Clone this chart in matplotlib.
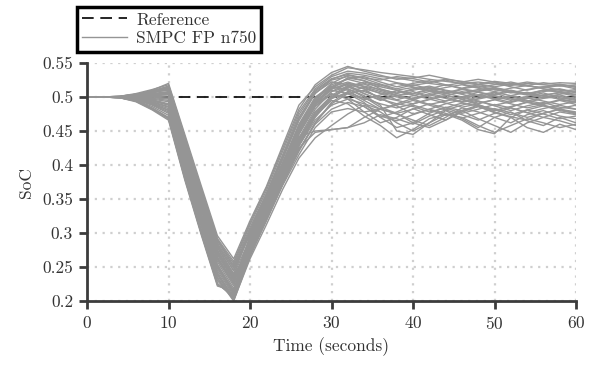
import numpy as np
import matplotlib
matplotlib.use("Agg")
from matplotlib import pyplot as plt

plt.rcParams['font.family'] = ['cmr10', 'DejaVu Serif']
plt.rcParams['axes.formatter.use_mathtext'] = True
plt.rcParams['mathtext.fontset'] = 'cm'

# time axis (seconds), one sample every 2 s
time = np.arange(0, 61, 2)
reference = [0.5] * len(time)

# SoC trajectories
soc_runs = [
    [0.5, 0.5, 0.500, 0.503, 0.510, 0.520, 0.445, 0.370, 0.296, 0.262, 0.318, 0.368, 0.428, 0.488, 0.515, 0.532, 0.543, 0.540, 0.536, 0.533, 0.530, 0.526, 0.523, 0.520, 0.522, 0.519, 0.517, 0.520, 0.518, 0.516, 0.518],
    [0.5, 0.5, 0.499, 0.495, 0.484, 0.470, 0.382, 0.302, 0.226, 0.205, 0.272, 0.324, 0.375, 0.422, 0.462, 0.490, 0.505, 0.510, 0.498, 0.487, 0.475, 0.482, 0.490, 0.496, 0.489, 0.480, 0.485, 0.493, 0.488, 0.482, 0.478],
    [0.5, 0.5, 0.500, 0.500, 0.498, 0.495, 0.415, 0.338, 0.262, 0.225, 0.295, 0.345, 0.400, 0.455, 0.497, 0.515, 0.522, 0.515, 0.508, 0.502, 0.505, 0.510, 0.506, 0.500, 0.503, 0.507, 0.502, 0.498, 0.503, 0.506, 0.501],
    [0.5, 0.5, 0.501, 0.504, 0.508, 0.512, 0.432, 0.355, 0.280, 0.240, 0.300, 0.352, 0.408, 0.465, 0.505, 0.525, 0.530, 0.524, 0.512, 0.505, 0.512, 0.516, 0.510, 0.506, 0.511, 0.514, 0.509, 0.504, 0.510, 0.512, 0.507],
    [0.5, 0.5, 0.499, 0.494, 0.482, 0.468, 0.380, 0.300, 0.224, 0.210, 0.290, 0.340, 0.395, 0.452, 0.490, 0.505, 0.497, 0.478, 0.462, 0.470, 0.483, 0.474, 0.466, 0.478, 0.486, 0.477, 0.470, 0.481, 0.475, 0.468, 0.472],
    [0.5, 0.5, 0.500, 0.502, 0.505, 0.508, 0.428, 0.350, 0.275, 0.235, 0.285, 0.335, 0.388, 0.440, 0.482, 0.508, 0.520, 0.512, 0.497, 0.490, 0.498, 0.505, 0.500, 0.493, 0.500, 0.506, 0.498, 0.494, 0.500, 0.503, 0.497],
    [0.5, 0.5, 0.500, 0.498, 0.492, 0.485, 0.402, 0.322, 0.245, 0.208, 0.278, 0.330, 0.383, 0.438, 0.478, 0.500, 0.512, 0.502, 0.488, 0.450, 0.445, 0.462, 0.480, 0.468, 0.455, 0.470, 0.478, 0.465, 0.458, 0.470, 0.462],
    [0.5, 0.5, 0.500, 0.503, 0.509, 0.516, 0.440, 0.364, 0.290, 0.255, 0.312, 0.362, 0.420, 0.478, 0.512, 0.530, 0.538, 0.535, 0.530, 0.528, 0.524, 0.520, 0.517, 0.521, 0.518, 0.515, 0.519, 0.516, 0.514, 0.518, 0.515],
    [0.5, 0.5, 0.500, 0.497, 0.490, 0.480, 0.395, 0.315, 0.238, 0.202, 0.268, 0.318, 0.370, 0.415, 0.455, 0.478, 0.483, 0.478, 0.482, 0.490, 0.486, 0.478, 0.484, 0.491, 0.487, 0.480, 0.486, 0.492, 0.487, 0.483, 0.488],
    [0.5, 0.5, 0.501, 0.504, 0.507, 0.510, 0.430, 0.352, 0.278, 0.238, 0.292, 0.345, 0.398, 0.452, 0.495, 0.518, 0.526, 0.520, 0.515, 0.510, 0.514, 0.509, 0.505, 0.511, 0.507, 0.503, 0.508, 0.505, 0.502, 0.507, 0.504],
    [0.5, 0.5, 0.500, 0.499, 0.496, 0.490, 0.410, 0.330, 0.254, 0.215, 0.282, 0.333, 0.386, 0.442, 0.450, 0.452, 0.455, 0.462, 0.474, 0.468, 0.460, 0.472, 0.481, 0.474, 0.466, 0.476, 0.484, 0.477, 0.470, 0.478, 0.474],
    [0.5, 0.5, 0.500, 0.501, 0.502, 0.503, 0.422, 0.344, 0.268, 0.230, 0.288, 0.340, 0.392, 0.446, 0.488, 0.512, 0.528, 0.530, 0.522, 0.515, 0.520, 0.524, 0.518, 0.513, 0.518, 0.521, 0.515, 0.510, 0.515, 0.519, 0.514],
    [0.5, 0.5, 0.499, 0.496, 0.488, 0.476, 0.390, 0.310, 0.233, 0.200, 0.265, 0.318, 0.372, 0.425, 0.448, 0.452, 0.455, 0.470, 0.482, 0.475, 0.466, 0.458, 0.470, 0.484, 0.478, 0.470, 0.462, 0.474, 0.480, 0.472, 0.468],
    [0.5, 0.5, 0.500, 0.502, 0.506, 0.511, 0.436, 0.360, 0.285, 0.248, 0.305, 0.356, 0.412, 0.470, 0.506, 0.522, 0.518, 0.505, 0.496, 0.502, 0.508, 0.500, 0.494, 0.500, 0.507, 0.501, 0.495, 0.501, 0.506, 0.499, 0.495],
    [0.5, 0.5, 0.500, 0.498, 0.494, 0.488, 0.405, 0.326, 0.250, 0.212, 0.280, 0.330, 0.382, 0.435, 0.472, 0.495, 0.490, 0.472, 0.458, 0.440, 0.452, 0.468, 0.475, 0.466, 0.452, 0.446, 0.470, 0.455, 0.448, 0.460, 0.452],
    [0.5, 0.5, 0.501, 0.505, 0.511, 0.518, 0.442, 0.366, 0.292, 0.258, 0.315, 0.366, 0.424, 0.482, 0.518, 0.536, 0.545, 0.538, 0.532, 0.526, 0.528, 0.532, 0.527, 0.522, 0.526, 0.522, 0.518, 0.522, 0.519, 0.521, 0.520],
    [0.5, 0.5, 0.500, 0.500, 0.497, 0.493, 0.412, 0.334, 0.258, 0.218, 0.284, 0.336, 0.390, 0.445, 0.486, 0.508, 0.515, 0.508, 0.500, 0.495, 0.490, 0.496, 0.502, 0.497, 0.491, 0.496, 0.501, 0.495, 0.490, 0.496, 0.492],
    [0.5, 0.5, 0.500, 0.501, 0.503, 0.505, 0.425, 0.347, 0.272, 0.232, 0.272, 0.322, 0.372, 0.420, 0.462, 0.492, 0.508, 0.514, 0.505, 0.496, 0.502, 0.508, 0.503, 0.497, 0.503, 0.498, 0.492, 0.498, 0.503, 0.497, 0.493],
    [0.5, 0.5, 0.499, 0.493, 0.481, 0.466, 0.378, 0.298, 0.222, 0.215, 0.296, 0.346, 0.402, 0.460, 0.500, 0.516, 0.510, 0.495, 0.482, 0.488, 0.495, 0.488, 0.481, 0.488, 0.494, 0.487, 0.480, 0.487, 0.492, 0.485, 0.482],
    [0.5, 0.5, 0.500, 0.502, 0.504, 0.507, 0.427, 0.349, 0.274, 0.236, 0.275, 0.326, 0.378, 0.428, 0.470, 0.498, 0.515, 0.522, 0.518, 0.510, 0.505, 0.512, 0.518, 0.512, 0.508, 0.513, 0.509, 0.505, 0.510, 0.507, 0.503],
    [0.5, 0.5, 0.500, 0.499, 0.495, 0.489, 0.408, 0.328, 0.252, 0.214, 0.278, 0.328, 0.380, 0.432, 0.474, 0.498, 0.505, 0.492, 0.470, 0.455, 0.462, 0.476, 0.485, 0.480, 0.468, 0.458, 0.448, 0.462, 0.470, 0.465, 0.458],
    [0.5, 0.5, 0.500, 0.503, 0.508, 0.514, 0.438, 0.362, 0.288, 0.252, 0.308, 0.358, 0.415, 0.474, 0.510, 0.527, 0.533, 0.528, 0.525, 0.530, 0.527, 0.522, 0.526, 0.523, 0.519, 0.523, 0.520, 0.517, 0.521, 0.518, 0.516],
    [0.5, 0.5, 0.500, 0.497, 0.491, 0.483, 0.398, 0.318, 0.242, 0.205, 0.270, 0.322, 0.376, 0.428, 0.466, 0.488, 0.497, 0.490, 0.482, 0.476, 0.462, 0.455, 0.466, 0.480, 0.486, 0.478, 0.471, 0.466, 0.476, 0.482, 0.476],
    [0.5, 0.5, 0.500, 0.501, 0.501, 0.500, 0.418, 0.340, 0.265, 0.228, 0.290, 0.342, 0.396, 0.450, 0.492, 0.512, 0.518, 0.512, 0.506, 0.500, 0.498, 0.503, 0.498, 0.492, 0.497, 0.502, 0.497, 0.492, 0.498, 0.501, 0.496],
    [0.5, 0.5, 0.500, 0.502, 0.507, 0.513, 0.434, 0.357, 0.282, 0.244, 0.302, 0.354, 0.410, 0.468, 0.508, 0.526, 0.535, 0.532, 0.527, 0.521, 0.517, 0.521, 0.525, 0.519, 0.514, 0.518, 0.522, 0.517, 0.513, 0.517, 0.512],
    [0.5, 0.5, 0.499, 0.495, 0.486, 0.473, 0.386, 0.306, 0.230, 0.203, 0.270, 0.322, 0.374, 0.430, 0.472, 0.500, 0.515, 0.505, 0.495, 0.502, 0.497, 0.489, 0.494, 0.500, 0.494, 0.488, 0.493, 0.499, 0.494, 0.489, 0.493],
    [0.5, 0.5, 0.500, 0.501, 0.500, 0.498, 0.417, 0.339, 0.264, 0.226, 0.292, 0.344, 0.398, 0.452, 0.493, 0.514, 0.512, 0.500, 0.485, 0.476, 0.482, 0.490, 0.484, 0.476, 0.482, 0.489, 0.484, 0.477, 0.483, 0.488, 0.482],
    [0.5, 0.5, 0.500, 0.503, 0.509, 0.515, 0.439, 0.363, 0.289, 0.250, 0.300, 0.350, 0.404, 0.458, 0.498, 0.520, 0.532, 0.527, 0.519, 0.512, 0.518, 0.512, 0.506, 0.512, 0.516, 0.511, 0.506, 0.511, 0.515, 0.510, 0.508],
    [0.5, 0.5, 0.499, 0.496, 0.489, 0.478, 0.392, 0.312, 0.235, 0.201, 0.262, 0.312, 0.364, 0.410, 0.440, 0.458, 0.475, 0.488, 0.478, 0.462, 0.450, 0.462, 0.474, 0.470, 0.458, 0.448, 0.458, 0.468, 0.462, 0.455, 0.460],
    [0.5, 0.5, 0.500, 0.500, 0.499, 0.497, 0.416, 0.337, 0.261, 0.222, 0.286, 0.338, 0.393, 0.448, 0.490, 0.512, 0.520, 0.516, 0.511, 0.506, 0.510, 0.514, 0.509, 0.505, 0.509, 0.512, 0.507, 0.503, 0.508, 0.511, 0.506],
    [0.5, 0.5, 0.501, 0.504, 0.508, 0.513, 0.435, 0.358, 0.283, 0.245, 0.298, 0.348, 0.402, 0.456, 0.494, 0.510, 0.505, 0.496, 0.503, 0.509, 0.503, 0.497, 0.502, 0.508, 0.502, 0.497, 0.502, 0.507, 0.501, 0.497, 0.500],
    [0.5, 0.5, 0.499, 0.494, 0.483, 0.469, 0.381, 0.301, 0.225, 0.207, 0.285, 0.336, 0.390, 0.446, 0.486, 0.504, 0.500, 0.486, 0.470, 0.478, 0.488, 0.481, 0.473, 0.480, 0.488, 0.482, 0.474, 0.481, 0.487, 0.480, 0.476],
    [0.5, 0.5, 0.500, 0.502, 0.503, 0.504, 0.424, 0.346, 0.270, 0.233, 0.286, 0.338, 0.392, 0.447, 0.489, 0.515, 0.528, 0.524, 0.516, 0.520, 0.515, 0.509, 0.514, 0.518, 0.513, 0.508, 0.513, 0.517, 0.512, 0.508, 0.511],
    [0.5, 0.5, 0.500, 0.498, 0.493, 0.486, 0.403, 0.324, 0.248, 0.210, 0.276, 0.327, 0.380, 0.435, 0.476, 0.498, 0.507, 0.498, 0.490, 0.484, 0.490, 0.497, 0.491, 0.485, 0.490, 0.496, 0.490, 0.484, 0.489, 0.495, 0.489],
    [0.5, 0.5, 0.500, 0.501, 0.504, 0.506, 0.426, 0.348, 0.273, 0.234, 0.280, 0.330, 0.384, 0.436, 0.478, 0.502, 0.517, 0.519, 0.510, 0.503, 0.496, 0.503, 0.509, 0.504, 0.498, 0.504, 0.510, 0.505, 0.499, 0.504, 0.509],
    [0.5, 0.5, 0.500, 0.497, 0.490, 0.481, 0.396, 0.316, 0.240, 0.204, 0.268, 0.320, 0.372, 0.422, 0.460, 0.482, 0.492, 0.486, 0.472, 0.465, 0.474, 0.482, 0.476, 0.469, 0.476, 0.483, 0.477, 0.470, 0.476, 0.482, 0.475],
]

x_ticks = [0, 10, 20, 30, 40, 50, 60]
y_ticks = [0.2, 0.25, 0.3, 0.35, 0.4, 0.45, 0.5, 0.55]
y_tick_labels = ['0.2', '0.25', '0.3', '0.35', '0.4', '0.45', '0.5', '0.55']

fig = plt.figure(figsize=(6.01, 3.66), dpi=100)
ax = fig.add_axes([87 / 601, 1 - 301 / 366, (576 - 87) / 601, (301 - 63) / 366])

ref_line, = ax.plot(time, reference, color='black', lw=1.2, dashes=(7, 4), zorder=2)
run_lines = []
for run in soc_runs:
    ln, = ax.plot(time, run, color='#959595', lw=1.0, zorder=3)
    run_lines.append(ln)

ax.set_xlim(0, 60)
ax.set_ylim(0.2, 0.55)
ax.set_xticks(x_ticks)
ax.set_yticks(y_ticks)
ax.set_yticklabels(y_tick_labels)

ax.grid(True, color='#cfcfcf', linestyle=(0, (1, 2.5)), linewidth=1.6)
ax.set_axisbelow(True)
for side in ['top', 'right']:
    ax.spines[side].set_visible(False)
for side in ['left', 'bottom']:
    ax.spines[side].set_linewidth(2)
    ax.spines[side].set_color('#3c3c3c')
    ax.spines[side].set_zorder(5)
ax.tick_params(direction='out', length=6, width=2, color='#3c3c3c',
               labelsize=12.5, labelcolor='#333333', pad=4)

ax.set_xlabel('Time (seconds)', fontsize=12.5, color='#333333', labelpad=4)
ax.set_ylabel('SoC', fontsize=12.5, color='#333333', labelpad=6)

leg = fig.legend([ref_line, run_lines[0]], ['Reference', 'SMPC FP n750'],
                 loc='upper left', bbox_to_anchor=(77 / 601, 1 - 7 / 366),
                 borderaxespad=0, fancybox=False, framealpha=1,
                 edgecolor='black', fontsize=12.5, handlelength=2.6,
                 borderpad=0.3, labelspacing=0.2, handletextpad=0.5)
leg.get_frame().set_linewidth(2.5)
for t in leg.get_texts():
    t.set_color('#333333')

fig.savefig('out.png', dpi=100)
